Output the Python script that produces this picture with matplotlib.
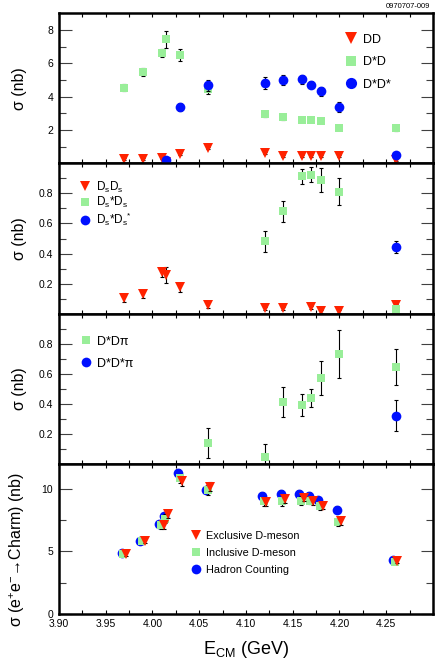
"""
Charm cross sections vs. centre-of-mass energy, four stacked panels.
"""
import numpy as np
import matplotlib
matplotlib.use('Agg')
import matplotlib.pyplot as plt
from matplotlib.ticker import MultipleLocator, FixedLocator

plt.rcParams['font.family'] = ['Liberation Sans', 'DejaVu Sans']
plt.rcParams['mathtext.fontset'] = 'custom'
plt.rcParams['mathtext.rm'] = 'Liberation Sans'
plt.rcParams['mathtext.it'] = 'Liberation Sans:italic'
plt.rcParams['mathtext.bf'] = 'Liberation Sans:bold'

RED = '#ff2200'
GREEN = '#99ee99'
BLUE = '#0010ff'

# ---- panel 1: D D, D*D, D*D* ----
e_dd = [3.97, 3.99, 4.01, 4.015, 4.03, 4.06, 4.12, 4.14, 4.16, 4.17, 4.18, 4.20, 4.26]
dd = [0.28, 0.28, 0.30, 0.10, 0.58, 0.95, 0.64, 0.44, 0.44, 0.44, 0.45, 0.44, 0.20]
dd_err = [0.05, 0.05, 0.05, 0.05, 0.06, 0.06, 0.05, 0.05, 0.05, 0.05, 0.05, 0.05, 0.05]

e_dstard = [3.97, 3.99, 4.01, 4.015, 4.03, 4.06, 4.12, 4.14, 4.16, 4.17, 4.18, 4.20, 4.26]
dstard = [4.54, 5.49, 6.63, 7.44, 6.49, 4.45, 2.96, 2.76, 2.62, 2.58, 2.52, 2.12, 2.12]
dstard_err = [0.2, 0.25, 0.25, 0.5, 0.35, 0.3, 0.15, 0.15, 0.12, 0.12, 0.12, 0.12, 0.15]

e_dstardstar = [4.015, 4.03, 4.06, 4.12, 4.14, 4.16, 4.17, 4.18, 4.20, 4.26]
dstardstar = [0.20, 3.39, 4.68, 4.84, 5.00, 5.04, 4.72, 4.33, 3.39, 0.52]
dstardstar_err = [0.05, 0.25, 0.35, 0.35, 0.3, 0.28, 0.2, 0.28, 0.3, 0.08]

# ---- panel 2: Ds Ds, Ds*Ds, Ds*Ds* ----
e_dsds = [3.97, 3.99, 4.01, 4.015, 4.03, 4.06, 4.12, 4.14, 4.17, 4.18, 4.20, 4.26]
dsds = [0.103, 0.13, 0.276, 0.258, 0.176, 0.054, 0.036, 0.036, 0.043, 0.014, 0.016, 0.054]
dsds_err = [0.025, 0.025, 0.03, 0.055, 0.03, 0.02, 0.01, 0.01, 0.01, 0.01, 0.01, 0.01]

e_dsstards = [4.12, 4.14, 4.16, 4.17, 4.18, 4.20, 4.26]
dsstards = [0.482, 0.681, 0.914, 0.924, 0.891, 0.811, 0.032]
dsstards_err = [0.07, 0.07, 0.05, 0.05, 0.08, 0.09, 0.01]

e_dsstardsstar = [4.26]
dsstardsstar = [0.442]
dsstardsstar_err = [0.04]

# ---- panel 3: D*D pi, D*D* pi ----
e_dstardpi = [4.06, 4.12, 4.14, 4.16, 4.17, 4.18, 4.20, 4.26]
dstardpi = [0.14, 0.048, 0.41, 0.39, 0.44, 0.57, 0.733, 0.642]
dstardpi_err = [0.1, 0.085, 0.1, 0.075, 0.06, 0.115, 0.16, 0.12]

e_dstardstarpi = [4.26]
dstardstarpi = [0.321]
dstardstarpi_err = [0.105]

# ---- panel 4: total charm cross section ----
e_scan = [3.97, 3.99, 4.01, 4.015, 4.03, 4.06, 4.12, 4.14, 4.16, 4.17, 4.18, 4.20, 4.26]
hadron = [4.86, 5.83, 7.15, 7.82, 11.26, 9.94, 9.41, 9.57, 9.62, 9.46, 9.08, 8.33, 4.35]
hadron_err = [0.15, 0.2, 0.25, 0.25, 0.3, 0.3, 0.3, 0.3, 0.3, 0.3, 0.3, 0.3, 0.15]
inclusive = [4.80, 5.83, 7.07, 7.60, 10.83, 9.90, 9.00, 9.00, 9.05, 9.05, 8.63, 7.34, 4.16]
inclusive_err = [0.2, 0.25, 0.3, 0.35, 0.35, 0.4, 0.35, 0.35, 0.35, 0.3, 0.3, 0.3, 0.2]
exclusive = [4.78, 5.86, 7.07, 8.00, 10.60, 10.16, 8.95, 9.16, 9.30, 9.03, 8.65, 7.42, 4.22]
exclusive_err = [0.15, 0.2, 0.25, 0.3, 0.35, 0.35, 0.35, 0.3, 0.3, 0.3, 0.3, 0.3, 0.15]

x_ticks = [3.90, 3.95, 4.00, 4.05, 4.10, 4.15, 4.20, 4.25]


def draw(ax, x, y, err, marker, color, label, ms, z):
    ax.errorbar(x, y, yerr=err, fmt='none', ecolor='black', elinewidth=0.8,
                capsize=1.3, capthick=0.8, zorder=z)
    ax.plot(x, y, linestyle='none', marker=marker, color=color, ms=ms,
            markeredgewidth=0, label=label, zorder=z + 0.5)


fig = plt.figure(figsize=(4.36, 6.63), dpi=100)
axes = fig.subplots(4, 1, sharex=True, gridspec_kw=dict(hspace=0))
fig.subplots_adjust(left=0.135, right=0.993, top=0.980, bottom=0.074)

ax1, ax2, ax3, ax4 = axes

draw(ax1, e_dd, dd, dd_err, 'v', RED, 'DD', 7.5, 2)
draw(ax1, e_dstard, dstard, dstard_err, 's', GREEN, 'D*D', 6.4, 3)
draw(ax1, e_dstardstar, dstardstar, dstardstar_err, 'o', BLUE, 'D*D*', 7, 4)

draw(ax2, e_dsds, dsds, dsds_err, 'v', RED, r'D$_\mathregular{s}$D$_\mathregular{s}$', 7.5, 2)
draw(ax2, e_dsstards, dsstards, dsstards_err, 's', GREEN,
     r'D$_\mathregular{s}$*D$_\mathregular{s}$', 6.4, 3)
draw(ax2, e_dsstardsstar, dsstardsstar, dsstardsstar_err, 'o', BLUE,
     r'D$_\mathregular{s}$*D$_\mathregular{s}$$^\mathregular{*}$', 7, 4)

draw(ax3, e_dstardpi, dstardpi, dstardpi_err, 's', GREEN, 'D*Dπ', 6.4, 3)
draw(ax3, e_dstardstarpi, dstardstarpi, dstardstarpi_err, 'o', BLUE, 'D*D*π', 7, 4)

e = np.array(e_scan)
draw(ax4, e - 0.003, hadron, hadron_err, 'o', BLUE, 'Hadron Counting', 7, 2)
draw(ax4, e - 0.001, inclusive, inclusive_err, 's', GREEN, 'Inclusive D-meson', 6.4, 3)
draw(ax4, e + 0.002, exclusive, exclusive_err, 'v', RED, 'Exclusive D-meson', 7.5, 4)

# axis ranges and ticks
ax1.set_ylim(0, 9)
ax1.yaxis.set_major_locator(FixedLocator([2, 4, 6, 8]))
ax1.yaxis.set_minor_locator(FixedLocator([1, 3, 5, 7]))
for ax in (ax2, ax3):
    ax.set_ylim(0, 1.0)
    ax.yaxis.set_major_locator(FixedLocator([0.2, 0.4, 0.6, 0.8]))
    ax.yaxis.set_minor_locator(FixedLocator([0.1, 0.3, 0.5, 0.7, 0.9]))
ax4.set_ylim(0, 12)
ax4.yaxis.set_major_locator(FixedLocator([0, 5, 10]))
ax4.yaxis.set_minor_locator(FixedLocator([2.5, 7.5]))

ax4.set_xlim(3.90, 4.30)
ax4.xaxis.set_major_locator(FixedLocator(x_ticks))
ax4.xaxis.set_minor_locator(MultipleLocator(0.025))
ax4.set_xticklabels(['%.2f' % t for t in x_ticks])

for ax in axes:
    ax.tick_params(axis='y', which='major', direction='in', length=9, width=0.8,
                   left=True, right=True, labelsize=7.5, pad=4, color='0.25')
    ax.tick_params(axis='y', which='minor', direction='in', length=5, width=0.8,
                   left=True, right=True, color='0.25')
    ax.tick_params(axis='x', which='both', direction='in', length=3, width=0.8,
                   top=True, bottom=True, labelsize=7.5, pad=4)
    for s in ax.spines.values():
        s.set_linewidth(1.8)
    ax.set_ylabel('σ (nb)', fontsize=11.5)
    ax.yaxis.set_label_coords(-0.085, 0.5)

ax4.set_ylabel('σ (e$^\\mathregular{+}$e$^\\mathregular{-}$→Charm) (nb)', fontsize=11.5)
ax4.yaxis.set_label_coords(-0.085, 0.43)
ax4.set_xlabel(r'E$_\mathregular{CM}$ (GeV)', fontsize=13, labelpad=7)

# legends
leg_kw = dict(frameon=False, numpoints=1, borderpad=0, borderaxespad=0,
              handlelength=1.0, handletextpad=0.4, loc='upper left')
h, l = ax1.get_legend_handles_labels()
ax1.legend(h, l, bbox_to_anchor=(0.765, 0.865), fontsize=9, labelspacing=0.85,
           markerscale=1.15, **leg_kw)
h, l = ax2.get_legend_handles_labels()
ax2.legend(h, l, bbox_to_anchor=(0.054, 0.893), fontsize=8.5, labelspacing=0.05, **leg_kw)
h, l = ax3.get_legend_handles_labels()
ax3.legend(h, l, bbox_to_anchor=(0.056, 0.852), fontsize=9, labelspacing=0.8, **leg_kw)
h, l = ax4.get_legend_handles_labels()
ax4.legend(h[::-1], l[::-1], bbox_to_anchor=(0.353, 0.555), fontsize=7.8,
           labelspacing=0.65, **leg_kw)

fig.text(0.987, 0.996, '0970707-009', ha='right', va='top', fontsize=5.5)

fig.savefig('out.png', dpi=100)
